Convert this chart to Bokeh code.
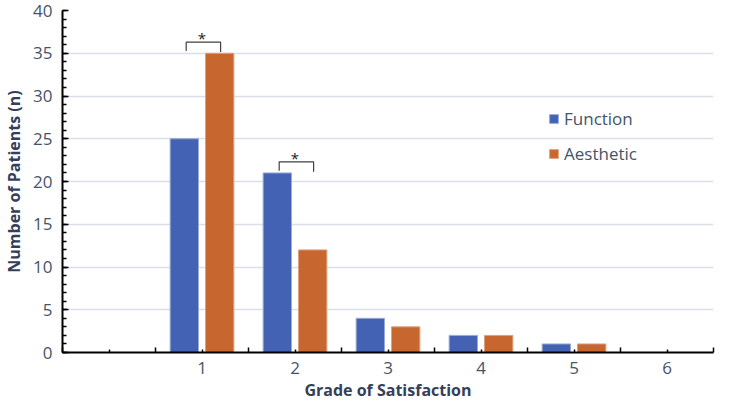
from bokeh.plotting import figure
from bokeh.models import FixedTicker, SingleIntervalTicker, Range1d, ColumnDataSource
from bokeh.core.properties import value
from bokeh.embed import file_html
from bokeh.resources import INLINE

# ---- data ----
tick_labels = ["", "1", "2", "3", "4", "5", "6"]
categories = ["1", "2", "3", "4", "5", "6"]
function_vals = [25, 21, 4, 2, 1, 0]
aesthetic_vals = [35, 12, 3, 2, 1, 0]
significant = ["1", "2"]

# ---- styling ----
FONT = "Open Sans"
TEXT = "#44546A"
TITLE = "#34405A"
BLUE = "#4462B4"
ORANGE = "#C7672F"
off_f, off_a, bw = -0.19, 0.19, 0.305

pos = [tick_labels.index(c) for c in categories]

p = figure(width=715, height=403, output_backend="svg", toolbar_location=None,
           x_range=Range1d(-0.5, len(tick_labels) - 0.5), y_range=Range1d(0, 40),
           min_border_top=10, min_border_right=2, min_border_left=0, min_border_bottom=0)
p.outline_line_color = None
p.background_fill_color = "white"

src = ColumnDataSource(dict(
    xf=[x + off_f for x in pos], xa=[x + off_a for x in pos],
    f=function_vals, a=aesthetic_vals))

p.vbar(x="xf", top="f", width=bw, source=src, fill_color=BLUE,
       line_color="#9AAAD8", line_width=1, legend_label="Function")
p.vbar(x="xa", top="a", width=bw, source=src, fill_color=ORANGE,
       line_color="#E0A07C", line_width=1, legend_label="Aesthetic")

# significance brackets
bxs, bys, sx, sy = [], [], [], []
for c in significant:
    i = categories.index(c)
    xc = pos[i]
    top = max(function_vals[i], aesthetic_vals[i])
    yb = top + 1.3
    xl, xr = xc + off_f + 0.02, xc + off_a + 0.01
    bxs.append([xl, xl, xr, xr])
    bys.append([yb - 1.05, yb, yb, yb - 1.15])
    sx.append(xc)
    sy.append(yb + 0.45)
p.multi_line(xs=bxs, ys=bys, line_color="#404040", line_width=1.2)
p.text(x=sx, y=sy, text=["*"] * len(sx), text_font=value(FONT), text_font_size="15px",
       text_color="#222222", text_align="center", text_baseline="alphabetic")

# axes
p.xaxis.ticker = FixedTicker(ticks=list(range(len(tick_labels))),
                             minor_ticks=[i - 0.5 for i in range(len(tick_labels) + 1)])
p.xaxis.major_label_overrides = {i: t for i, t in enumerate(tick_labels)}
p.yaxis.ticker = SingleIntervalTicker(interval=5, num_minor_ticks=5)

for ax in (p.xaxis[0], p.yaxis[0]):
    ax.axis_line_color = "black"
    ax.axis_line_width = 2
    ax.major_tick_line_color = "black"
    ax.minor_tick_line_color = "black"
    ax.major_tick_line_width = 1.5
    ax.minor_tick_line_width = 1.5
    ax.major_tick_out = 0
    ax.minor_tick_out = 0
    ax.major_label_text_font = FONT
    ax.major_label_text_font_size = "17px"
    ax.major_label_text_color = TEXT
    ax.axis_label_text_font = FONT
    ax.axis_label_text_font_size = "16px"
    ax.axis_label_text_font_style = "bold"
    ax.axis_label_text_color = TITLE

p.xaxis.major_tick_in = 3
p.xaxis.minor_tick_in = 5
p.yaxis.major_tick_in = 6
p.yaxis.minor_tick_in = 4
p.xaxis.axis_label = "Grade of Satisfaction"
p.yaxis.axis_label = "Number of Patients (n)"
p.xaxis.major_label_standoff = 9
p.xaxis.axis_label_standoff = 2
p.yaxis.major_label_standoff = 10
p.yaxis.axis_label_standoff = 5

p.xgrid.grid_line_color = None
p.ygrid.ticker = SingleIntervalTicker(interval=5)
p.ygrid.grid_line_color = "#D9DEEA"
p.ygrid.grid_line_width = 1.5

lg = p.legend[0]
lg.location = (486, 187)
lg.background_fill_alpha = 0
lg.border_line_alpha = 0
lg.padding = 0
lg.margin = 0
lg.glyph_width = 11
lg.glyph_height = 11
lg.label_standoff = 5
lg.label_height = 20
lg.spacing = 12
lg.label_text_font = FONT
lg.label_text_font_size = "17px"
lg.label_text_color = TEXT

open("out.html", "w").write(file_html(p, INLINE))
